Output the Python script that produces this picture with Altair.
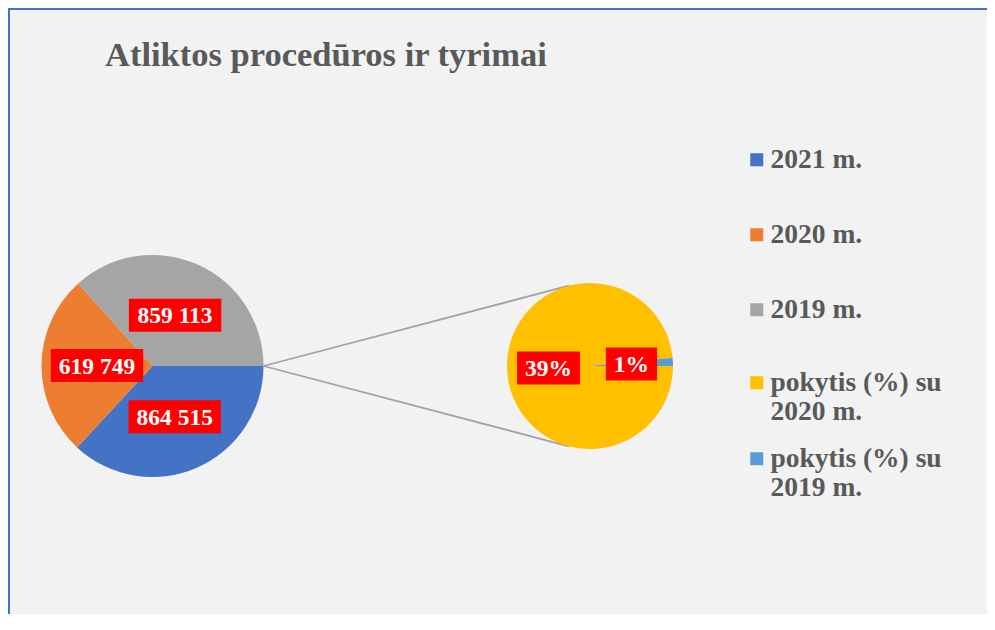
import math
import altair as alt
import pandas as pd

# ---------------- data ----------------
title_text = "Atliktos procedūros ir tyrimai"
main_categories = ["2021 m.", "2020 m.", "2019 m."]
main_values = [864515, 619749, 859113]
main_labels = ["864 515", "619 749", "859 113"]
sec_categories = ["pokytis (%) su 2020 m.", "pokytis (%) su 2019 m."]
sec_values = [0.3949, 0.0063]
sec_labels = ["39%", "1%"]

main_colors = ["#4472C4", "#ED7D31", "#A5A5A5"]
sec_colors = ["#FFC000", "#5B9BD5"]

# ---------------- layout ----------------
W, H = 979, 606
CX1, CY, R1 = 144.5, 358.0, 111.0
CX2, R2 = 582.0, 83.0
START = math.pi / 2
FONT = "Liberation Serif"
TXT = "#595959"
LBL_FS = 23.5

CHAR_W = {"%": 1.0, " ": 0.25}


def text_width(s, fs):
    return sum(CHAR_W.get(ch, 0.5) for ch in s) * fs


def slice_table(cats, vals, labels, cx, r):
    total = float(sum(vals))
    cum = 0.0
    rows = []
    for i, (c, v, l) in enumerate(zip(cats, vals, labels)):
        mid = START + 2 * math.pi * (cum + v / 2) / total
        cum += v
        px = cx + 0.5 * r * math.sin(mid)
        py = CY - 0.5 * r * math.cos(mid)
        w = text_width(l, LBL_FS) + 16
        rows.append(dict(category=c, value=v, label=l, idx=i, px=px, py=py,
                         x0=px - w / 2, x1=px + w / 2, y0=py - 16.5, y1=py + 16.5))
    return pd.DataFrame(rows)


df_main = slice_table(main_categories, main_values, main_labels, CX1, R1)
df_sec = slice_table(sec_categories, sec_values, sec_labels, CX2, R2)
df_lbl = pd.concat([df_main, df_sec], ignore_index=True)

# connector lines: from the main pie's split point, tangent to the secondary pie
px0, py0 = CX1 + R1, CY
d = CX2 - px0
phi = math.acos(R2 / d)
conn = []
for th in (3 * math.pi / 2 + phi, 3 * math.pi / 2 - phi):
    conn.append(dict(xa=px0, ya=py0, xb=CX2 + R2 * math.sin(th), yb=CY - R2 * math.cos(th)))
df_conn = pd.DataFrame(conn)

legend_common = dict(
    orient="none", legendX=735, title=None, padding=0,
    symbolType="square", symbolSize=169, symbolStrokeWidth=0,
    labelFont=FONT, labelFontSize=27.5, labelFontWeight="bold", labelColor=TXT,
    labelLimit=400, labelOffset=0,
    labelExpr="split(replace(datum.label, ' su ', ' su|'), '|')",
)
legend_main = alt.Legend(legendY=138, rowPadding=46, **legend_common)
legend_sec = alt.Legend(legendY=361, rowPadding=18, **legend_common)

theta_scale = alt.Scale(range=[START, START + 2 * math.pi])

main_pie = alt.Chart(df_main).mark_arc(radius=R1).encode(
    theta=alt.Theta("value:Q", stack=True, scale=theta_scale),
    color=alt.Color("category:N", scale=alt.Scale(domain=main_categories, range=main_colors),
                    sort=main_categories, legend=legend_main),
    order=alt.Order("idx:Q"),
    x=alt.value(CX1), y=alt.value(CY),
)
sec_pie = alt.Chart(df_sec).mark_arc(radius=R2).encode(
    theta=alt.Theta("value:Q", stack=True, scale=theta_scale),
    color=alt.Color("category:N", scale=alt.Scale(domain=sec_categories, range=sec_colors),
                    sort=sec_categories, legend=legend_sec),
    order=alt.Order("idx:Q"),
    x=alt.value(CX2), y=alt.value(CY),
)

connectors = alt.Chart(df_conn).mark_rule(color="#A3A3A3", strokeWidth=1.8).encode(
    x=alt.X("xa:Q", scale=None, axis=None), y=alt.Y("ya:Q", scale=None, axis=None),
    x2="xb:Q", y2="yb:Q",
)

boxes = alt.Chart(df_lbl).mark_rect(color="#FF0000").encode(
    x=alt.X("x0:Q", scale=None, axis=None), x2="x1:Q",
    y=alt.Y("y0:Q", scale=None, axis=None), y2="y1:Q",
)
texts = alt.Chart(df_lbl).mark_text(
    font=FONT, fontSize=LBL_FS, fontWeight="bold", color="white",
    align="center", baseline="middle", dy=1,
).encode(
    x=alt.X("px:Q", scale=None, axis=None), y=alt.Y("py:Q", scale=None, axis=None),
    text="label:N",
)

title = alt.Chart(pd.DataFrame({"t": [title_text]})).mark_text(
    font=FONT, fontSize=34.5, fontWeight="bold", color=TXT, align="left", baseline="alphabetic",
).encode(text="t:N", x=alt.value(97), y=alt.value(58))

one = pd.DataFrame({"a": [0]})
border_top = alt.Chart(one).mark_rule(color="#4472C4", strokeWidth=2).encode(
    x=alt.value(0), x2=alt.value(W), y=alt.value(1))
border_left = alt.Chart(one).mark_rule(color="#4472C4", strokeWidth=2).encode(
    x=alt.value(1), y=alt.value(0), y2=alt.value(H))

chart = alt.layer(
    connectors, main_pie, sec_pie, boxes, texts, title, border_top, border_left
).resolve_scale(theta="independent", color="independent").properties(
    width=W, height=H, autosize=alt.AutoSizeParams(type="none"), padding=0,
).configure(background="#F2F2F2").configure_view(strokeWidth=0)

chart.save("out.html", embed_options={"renderer": "svg", "actions": False})
